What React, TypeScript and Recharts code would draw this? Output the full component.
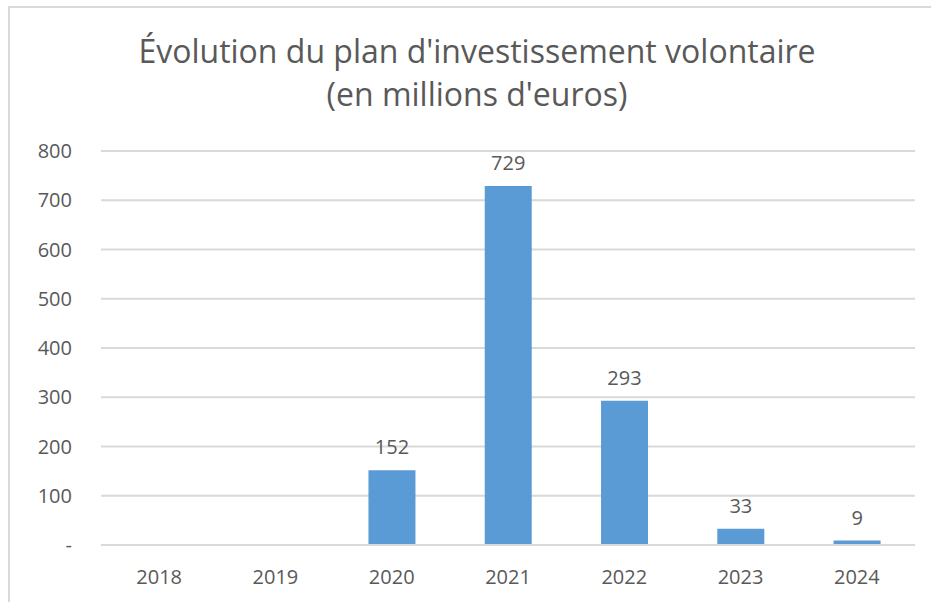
import { BarChart, Bar, XAxis, YAxis, CartesianGrid, LabelList } from 'recharts'

const years = ['2018', '2019', '2020', '2021', '2022', '2023', '2024']
const montants = [0, 0, 152, 729, 293, 33, 9]
const yTicks = [0, 100, 200, 300, 400, 500, 600, 700, 800]

const data = years.map((annee, i) => ({ annee, montant: montants[i] }))

const font = '"Open Sans", sans-serif'
const gris = '#595959'

function ValueLabel(props: any) {
  const { x, y, width, value } = props
  if (!value) return null
  return (
    <text
      x={Number(x) + Number(width) / 2}
      y={Number(y) - 16}
      textAnchor="middle"
      fill={gris}
      fontSize={20}
      fontFamily={font}
    >
      {value}
    </text>
  )
}

export default function App() {
  return (
    <div
      style={{
        position: 'absolute',
        left: 0,
        top: 0,
        width: 931,
        height: 602,
        background: '#fff',
        overflow: 'hidden',
        fontFamily: font,
      }}
    >
      <div
        style={{
          position: 'absolute',
          left: 8,
          top: 6,
          width: 960,
          height: 640,
          border: '2px solid #d9d9d9',
        }}
      />
      <div
        style={{
          position: 'absolute',
          left: 0,
          width: 954,
          top: 29,
          textAlign: 'center',
          color: gris,
          fontSize: 32,
          lineHeight: '43px',
        }}
      >
        Évolution du plan d'investissement volontaire
        <br />
        (en millions d'euros)
      </div>
      <BarChart
        width={931}
        height={602}
        data={data}
        margin={{ top: 151, right: 16, bottom: 17, left: 0 }}
        barCategoryGap="30%"
      >
        <CartesianGrid vertical={false} stroke="#d9d9d9" strokeWidth={2} />
        <XAxis
          dataKey="annee"
          axisLine={{ stroke: '#d9d9d9', strokeWidth: 2 }}
          tickLine={false}
          tickSize={0}
          tickMargin={25}
          height={40}
          tick={{ fill: gris, fontSize: 20, fontFamily: font }}
        />
        <YAxis
          domain={[0, 800]}
          ticks={yTicks}
          width={101}
          axisLine={false}
          tickLine={false}
          tickSize={0}
          tickMargin={29}
          tickFormatter={(v: number) => (v === 0 ? '-' : String(v))}
          tick={{ fill: gris, fontSize: 20, fontFamily: font }}
        />
        <Bar dataKey="montant" fill="#5B9BD5" isAnimationActive={false}>
          <LabelList dataKey="montant" content={ValueLabel} />
        </Bar>
      </BarChart>
    </div>
  )
}
